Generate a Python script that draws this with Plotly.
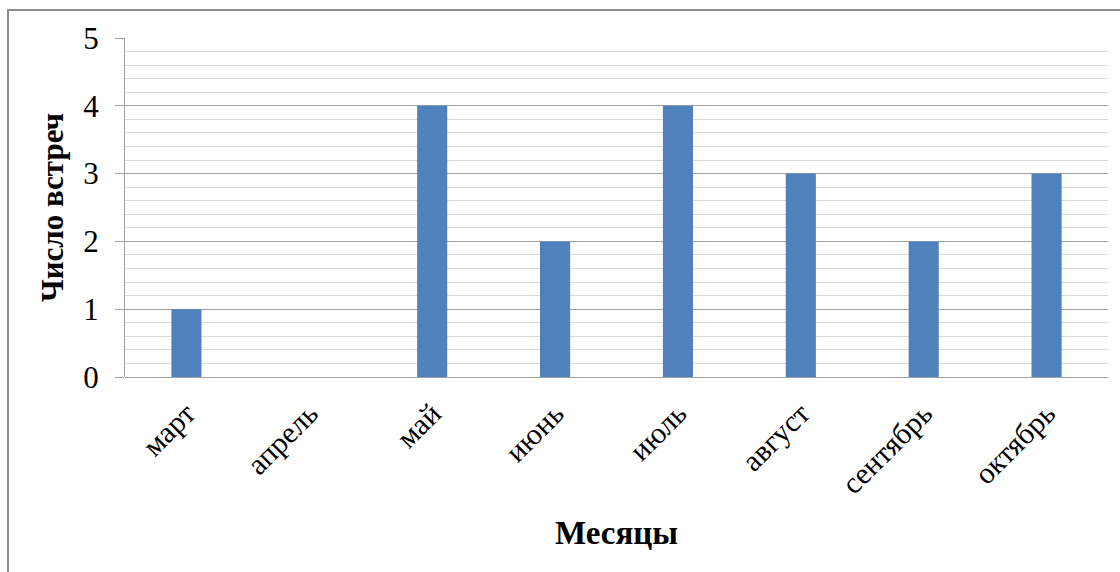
import plotly.graph_objects as go

months = ["март", "апрель", "май", "июнь", "июль", "август", "сентябрь", "октябрь"]
counts = [1, 0, 4, 2, 4, 3, 2, 3]
y_ticks = [0, 1, 2, 3, 4, 5]

L, R, T, B = 125, 12, 38, 195
W, H = 1120, 572
pw = W - L - R
ph = H - T - B

fig = go.Figure(go.Bar(
    x=months, y=counts, width=0.245,
    marker=dict(color="#4F81BD", line=dict(width=0)),
))

font = "Liberation Serif, Times New Roman, serif"
fig.update_layout(
    width=W, height=H,
    margin=dict(l=L, r=R, t=T, b=B),
    paper_bgcolor="white", plot_bgcolor="white",
    showlegend=False,
    font=dict(family=font, color="black"),
    xaxis=dict(
        tickangle=-45, tickfont=dict(size=30, family=font),
        showgrid=False, showline=False, ticks="", ticklabelstandoff=12,
        title=dict(text="<b>Месяцы</b>", font=dict(size=33, family=font), standoff=21),
    ),
    yaxis=dict(
        range=[0, 5], tickvals=y_ticks, tickfont=dict(size=31, family=font),
        showgrid=True, gridcolor="#a0a0a0", gridwidth=1,
        minor=dict(dtick=0.2, showgrid=True, gridcolor="#d9d9d9", gridwidth=1, ticks=""),
        showline=True, linecolor="#a0a0a0", linewidth=1,
        ticks="outside", ticklen=9, tickcolor="#a0a0a0", ticklabelstandoff=10,
        zeroline=True, zerolinecolor="#a0a0a0", zerolinewidth=1,
        title=dict(text="<b>Число встреч</b>", font=dict(size=31, family=font), standoff=10),
    ),
)

fig.add_shape(type="rect", xref="paper", yref="paper",
              x0=(8 - L) / pw, x1=1.1, y0=(H - B - 10) / ph, y1=-1.0,
              line=dict(color="#8c8c8c", width=2), fillcolor="rgba(0,0,0,0)", layer="below")

fig.write_html("out.html")
